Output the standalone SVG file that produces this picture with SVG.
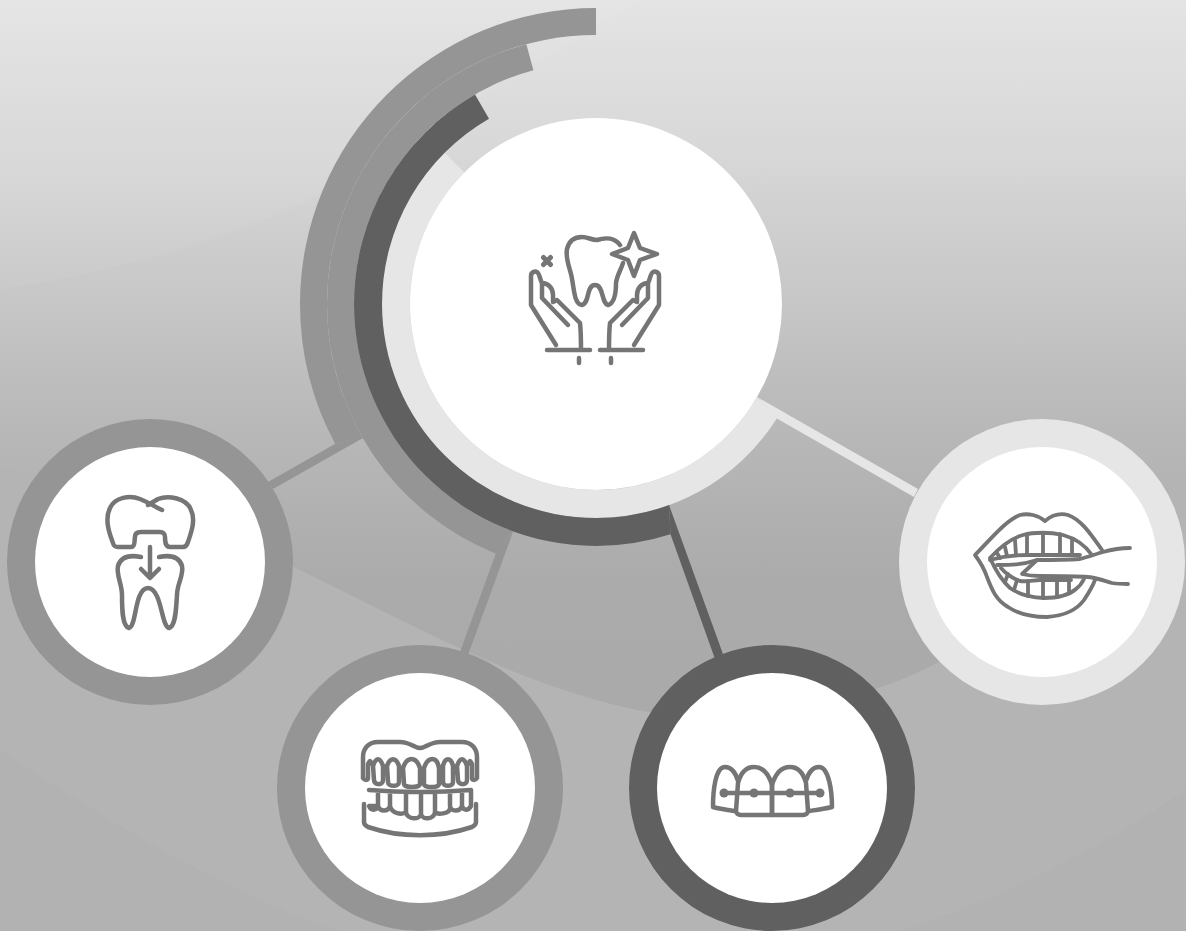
<svg xmlns="http://www.w3.org/2000/svg" width="1186" height="931" viewBox="0 0 1186 931">
<defs>
<linearGradient id="bg" x1="0" y1="0" x2="0" y2="1"><stop offset="0" stop-color="#e4e4e4"/><stop offset="0.16" stop-color="#d8d8d8"/><stop offset="0.45" stop-color="#b9b9b9"/><stop offset="0.62" stop-color="#ababab"/><stop offset="1" stop-color="#a8a8a8"/></linearGradient>
<path id="hand" d="M556 345L531 305V276C531 272 535 271 537 272C540 274 540 280 542 283C548 283 553 288 553 295V302M542 283V298L568 325M553 302L557 300L580 323C581 332 581 340 581 350M547 350H590M579 358V363"/>
</defs>
<style>
.ic{fill:none;stroke:#757575;stroke-width:4.500;stroke-linecap:round;stroke-linejoin:round}
.w{fill:#fff}
.ln{fill:#e6e6e6}.md{fill:#959595}.dk{fill:#606060}
</style>
<rect id="background" width="1186" height="931" fill="url(#bg)"/>
<path d="M0 290C120 270 230 240 330 190L640 0H0Z" fill="#fff" opacity=".05"/>
<path d="M0 468C110 485 200 520 300 570C430 634 540 695 660 714C760 725 880 700 960 650C1060 590 1130 540 1186 470V931H0Z" fill="#b4b4b4"/>
<path d="M0 750C120 830 240 900 340 931H900C1000 900 1100 850 1186 790V931H0Z" fill="#b0b0b0" opacity=".5"/>
<g id="connectors">
<path class="ln" d="M757 397L918 489L914 497L776 418Z"/>
<path class="dk" d="M669 505L723 654L715 659L670.400 534Z"/>
<path class="md" d="M513 532L468 655L460 652L496 553Z"/>
<path class="md" d="M363 438L273 489L268 482L335 444Z"/>
</g>
<g id="rings">
<path class="md" d="M596 8A296 296 0 0 0 300 304A296 296 0 0 0 335.200 443.900L363.040 438.500A269 269 0 0 1 327 304A269 269 0 0 1 596 35Z"/>
<path class="md" d="M526.380 44.160A269 269 0 0 0 327 304A269 269 0 0 0 495.740 553.630L513.230 531.410A242 242 0 0 1 354 304A242 242 0 0 1 533.370 70.240Z"/>
<path class="ln" d="M444.680 152.680A214 214 0 0 0 382 304A214 214 0 0 0 596 518A214 214 0 0 0 776.800 418.500L757.080 397A186 186 0 0 1 596 490A186 186 0 0 1 410 304A186 186 0 0 1 464.480 172.480Z"/>
<path class="dk" d="M475 94.420A242 242 0 0 0 354 304A242 242 0 0 0 596 546A242 242 0 0 0 670.400 534.300L669.190 505.100A214 214 0 0 1 596 518A214 214 0 0 1 382 304A214 214 0 0 1 489 118.670Z"/>
</g>
<g id="node-main">
<circle class="w" cx="596" cy="304" r="186"/>
<g class="ic">
<path d="M620 245C615 238 606 237 597 240C591 240 588 237 582 237C574 237 569 241 567 249C565 260 571 270 572 279C574 288 574 304 582 305C590 303 586 285 595 285C604 285 601 303 608 305C615 303 616 292 616 283C617 275 621 270 623 263"/>
<path d="M634 233L640 248L657 254L640 260L634 276L628 260L612 254L628 248Z"/>
<path d="M543.500 257.500L550.500 264.500M550.500 257.500L543.500 264.500" stroke-width="5"/>
<use href="#hand"/>
<use href="#hand" transform="matrix(-1 0 0 1 1190 0)"/>
</g>
</g>
<g id="node-crown">
<circle class="md" cx="150" cy="562" r="143"/><circle class="w" cx="150" cy="562" r="115"/>
<g class="ic">
<path d="M162 510C155 507 150 503 140 499C130 495 115 497 110 508C104 520 110 535 113 543C114 547 116 547 118 547H131C136 547 134 540 135 537C135 533 138 532 141 532H160C163 532 165 534 165 537C165 541 165 547 170 547H183C186 547 187 545 188 542C191 533 196 520 191 510C187 498 168 495 158 499L148 505"/>
<path d="M150 547V577M141 569L150 578L159 569"/>
<path d="M141 557C131 555 121 556 118 566C116 575 122 584 122 595C122 608 122 626 129 628C137 626 134 589 148 588C162 589 161 626 169 628C176 626 176 608 177 595C177 584 184 575 182 566C179 556 169 555 159 557"/>
</g>
</g>
<g id="node-dentures">
<circle class="md" cx="420" cy="788" r="143"/><circle class="w" cx="420" cy="788" r="115"/>
<g class="ic">
<path d="M363 778V757C363 748 369 742 378 742H400C410 742 414 748 420 748C426 748 430 742 440 742H462C471 742 477 748 477 757V778C475 781 472 780 472 778V764C470 760 470 760 468 764M363 778C365 781 368 780 368 778V764C370 760 370 760 372 764"/>
<path d="M373 766C376 757 380 757 383 766V780C383 786 374 785 374 780ZM387 766C390 757 396 757 399 766V782C399 787 388 787 388 782ZM403 768C407 756 416 756 420 768V784C420 788 404 788 404 784ZM424 768C428 756 437 756 439 768V784C439 788 424 788 424 784ZM443 766C445 757 451 757 453 766V782C453 787 443 787 443 782ZM457 766C460 757 464 757 467 766V780C467 786 458 785 458 780Z"/>
<path d="M369 790Q420 794 471 790V806C468 811 464 811 462 806V792M462 806C460 812 451 812 450 806V793M450 808C450 814 437 815 435 812V794M435 812C434 820 422 820 421 814V794M421 814C420 820 407 820 406 812V794M406 812C402 815 392 814 390 806V793M390 806C388 812 380 812 378 806V792M378 806C376 811 371 811 369 806Z"/>
<path d="M364 804V822C364 825 366 826 368 827C400 838 440 838 472 827C474 826 476 825 476 822V804"/>
</g>
</g>
<g id="node-braces">
<circle class="dk" cx="772" cy="788" r="143"/><circle class="w" cx="772" cy="788" r="115"/>
<g class="ic">
<path d="M735 811C728 810 720 809 713 807C713 792 715 767 725 767C733 767 736 774 738 781M809 811C816 810 824 809 832 807C832 792 829 767 819 767C811 767 808 774 806 781"/>
<path d="M736 811L738 783C741 772 746 767 754 767C763 767 769 775 772 785V815H741C738 815 736 813 736 811Z"/>
<path d="M808 811L806 783C803 772 798 767 790 767C781 767 775 775 772 785V815H803C806 815 808 813 808 811Z"/>
<path d="M724 793H820"/>
</g>
<g fill="#757575"><circle cx="724" cy="793" r="4.500"/><circle cx="754" cy="793" r="4.500"/><circle cx="790" cy="793" r="4.500"/><circle cx="820" cy="793" r="4.500"/></g>
</g>
<g id="node-mouth">
<circle class="ln" cx="1042" cy="562" r="143"/><circle class="w" cx="1042" cy="562" r="115"/>
<g class="ic" style="stroke-width:3.800">
<path d="M1102 550C1092 536 1082 520 1068 515C1060 513 1052 515 1045 521C1038 515 1028 513 1020 515C1006 520 990 540 975 555C981 563 985 571 987 577C992 590 996 600 1008 607C1020 615 1034 617 1047 617C1062 616 1076 611 1084 600C1088 594 1092 588 1095 580"/>
<path d="M1130 548C1118 548 1110 550 1103 552C1096 554 1088 557 1080 559C1065 560 1050 560 1037 560L1022 574C1030 576 1034 576 1040 576C1060 576 1076 576 1088 577C1098 578 1105 581 1112 583C1118 584 1122 584 1128 584"/>
<path d="M1092 555C1085 545 1074 538 1063 535C1050 532 1034 532 1023 535C1012 538 1000 547 990 558C994 567 1000 579 1010 588C1020 595 1034 598 1044 598C1058 598 1068 596 1076 589C1080 586 1082 583 1084 579"/>
<path d="M990 560C1004 556 1016 555 1027 555H1080M1001 568C1006 574 1012 578 1020 581C1028 582 1034 580 1040 580H1071M997 565C1010 565 1022 565 1037 560"/>
<path d="M1015 540L1016 555M1027 535V555M1043 533V555M1060 534V555M1072 539V555M1005 547L1007 556M997 553L1000 558M1008 574L1005 582M1017 580L1014 590M1028 581V596M1043 580V598M1057 580V597M1069 580V593"/>
</g>
</g>
</svg>
